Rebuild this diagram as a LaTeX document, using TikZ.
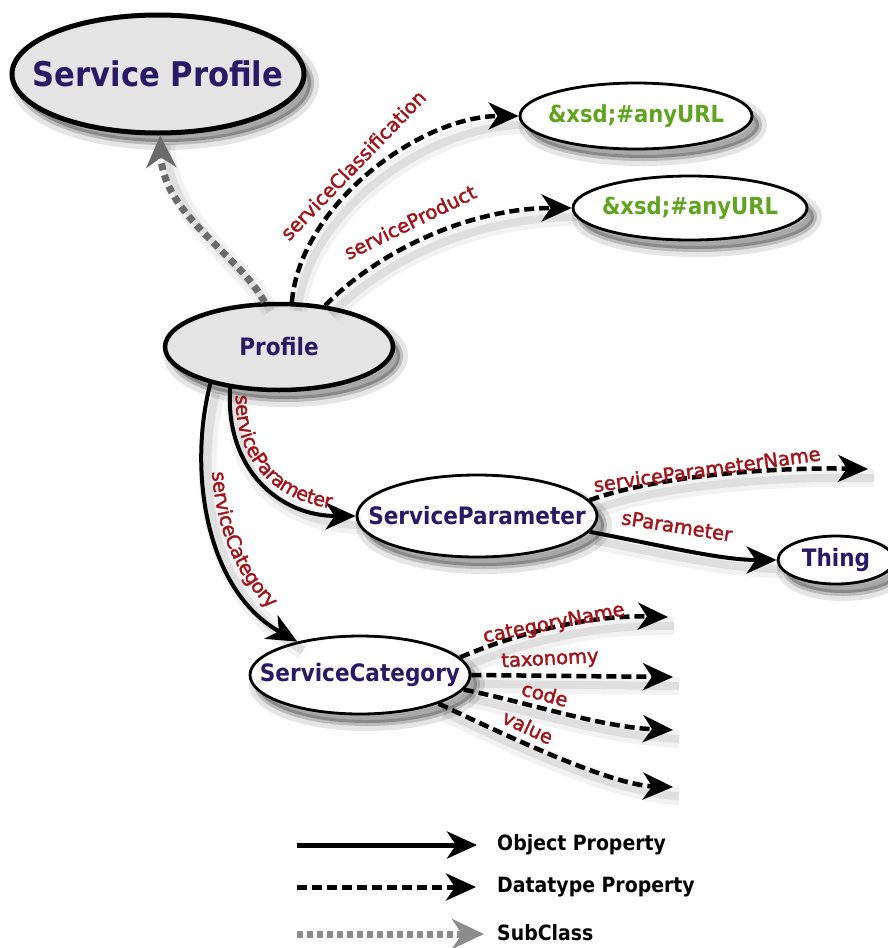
\documentclass[tikz,border=0pt]{standalone}
\usepackage{fontspec}
\setmainfont{DejaVu Sans}
\newfontfamily\nodefont{DejaVu Sans Condensed Bold}
\newfontfamily\lblfont[FakeBold=1.8]{DejaVu Sans}
\usetikzlibrary{shapes.geometric,arrows.meta,shadows,decorations.text}

\definecolor{nodeink}{HTML}{2A1A66}
\definecolor{urlgreen}{HTML}{5FA320}
\definecolor{lblred}{HTML}{A0141A}
\definecolor{classfill}{HTML}{E4E4E4}
\definecolor{subgray}{HTML}{6B6B6B}
\definecolor{legsubgray}{HTML}{8C8C8C}

\newcommand\lblstyle{\lblfont\fontsize{19.5pt}{22pt}\selectfont\color{lblred}}

\tikzset{
  % soft shadow below right of the ellipses
  nodeshadow/.style={
    drop shadow={shadow xshift=7pt, shadow yshift=-9pt, fill=black, draw=black, opacity=0.10, line width=16pt},
    drop shadow={shadow xshift=7pt, shadow yshift=-9pt, fill=black, draw=black, opacity=0.18, line width=6pt}},
  % soft shadow below right of the connectors
  edgeshadow/.style={
    preaction={draw=black, draw opacity=0.05, line width=18pt, solid, -, transform canvas={shift={(6pt,-9pt)}}},
    preaction={draw=black, draw opacity=0.08, line width=8pt, solid, -, transform canvas={shift={(6pt,-9pt)}}}},
  % node text keeps no width, so the ellipse size is set by the minimum sizes
  zerow/.style={execute at begin node={\hbox to 0pt\bgroup\hss}, execute at end node={\hss\egroup}},
  ellbase/.style={ellipse, inner sep=0pt, zerow, nodeshadow},
  topclass/.style={ellbase, draw, line width=5pt, fill=classfill, text=nodeink,
    font=\nodefont\fontsize{34pt}{38pt}\selectfont},
  cls/.style={ellbase, draw, line width=4.5pt, fill=classfill, text=nodeink,
    font=\nodefont\fontsize{24pt}{28pt}\selectfont},
  plainclass/.style={ellbase, draw, line width=2.8pt, fill=white, text=nodeink,
    font=\nodefont\fontsize{24pt}{28pt}\selectfont},
  dtype/.style={ellbase, draw, line width=2.8pt, fill=white, text=urlgreen,
    font=\nodefont\fontsize{23.5pt}{28pt}\selectfont},
  bigtip/.style={-{Stealth[length=30pt,width=27pt,inset=9pt]}},
  oprop/.style={draw=black, line width=4pt, bigtip, edgeshadow},
  dprop/.style={draw=black, line width=4.5pt, dash pattern=on 10pt off 5pt, bigtip, edgeshadow},
  subcls/.style={draw=subgray, line width=7pt, dash pattern=on 7pt off 5pt,
    -{Stealth[length=32pt,width=30pt,inset=10pt]}, edgeshadow},
  lbl/.style={inner sep=0pt, text=lblred, font=\lblfont\fontsize{19.5pt}{22pt}\selectfont},
  legtext/.style={inner sep=0pt, anchor=west, text=black, font=\nodefont\fontsize{21pt}{24pt}\selectfont},
}

\begin{document}
\begin{tikzpicture}[x=1pt,y=-1pt]
\fill[white] (0,0) rectangle (888,948);
\useasboundingbox (0,0) rectangle (888,948);

% classes and datatypes
\node[topclass, minimum width=292pt, minimum height=118pt] (sprof) at (158,74) {Service Profile};
\node[cls, minimum width=228pt, minimum height=86pt] (prof) at (279,347) {Profile};
\node[dtype, minimum width=232pt, minimum height=66pt] (url1) at (636,116) {\&xsd;\#anyURL};
\node[dtype, minimum width=234pt, minimum height=64pt] (url2) at (690,208) {\&xsd;\#anyURL};
\node[plainclass, minimum width=240pt, minimum height=82pt] (sparam) at (477,516) {ServiceParameter};
\node[plainclass, minimum width=116pt, minimum height=48pt] (thing) at (836,560) {Thing};
\node[plainclass, minimum width=220pt, minimum height=78pt] (scat) at (360,675) {ServiceCategory};

% open ends of datatype properties
\coordinate (pname) at (868,469);
\coordinate (cname) at (668,617);
\coordinate (ctax) at (673,677);
\coordinate (ccode) at (673,730);
\coordinate (cval) at (673,787);

% subclass link
\draw[subcls] (prof.108) .. controls (240,255) and (163,215) .. (sprof.-88);

% properties of Profile
\draw[dprop] (prof.74) .. controls (300,205) and (420,116) .. (url1.west);
\node[lbl, rotate=46] (lcls) at (353,165) {serviceClassification};
\draw[dprop] (prof.42) .. controls (380,250) and (470,208) .. (url2.west);
\node[lbl, rotate=26] (lprod) at (410,222) {serviceProduct};

\draw[oprop] (prof.220) .. controls (225,470) and (280,516) .. (sparam.west);
\path[decorate, decoration={text along path, raise=6pt, text align={left indent=7pt},
  text={|\lblstyle|serviceParameter}}]
  (prof.220) .. controls (225,470) and (280,516) .. (sparam.west);

\draw[oprop] (prof.208) .. controls (188,470) and (205,590) .. (scat.152);
\path[decorate, decoration={text along path, raise=10pt, text align={left indent=90pt},
  text={|\lblstyle|serviceCategory}}]
  (prof.208) .. controls (188,470) and (205,590) .. (scat.152);

% properties of ServiceParameter
\draw[dprop] (sparam.8) .. controls (650,478) and (760,467) .. (pname);
\node[lbl, rotate=8] (lpname) at (707,469) {serviceParameterName};
\draw[oprop] (sparam.-8) .. controls (660,545) and (720,560) .. (thing.west);
\node[lbl, rotate=-9] (lspar) at (677,526) {sParameter};

% properties of ServiceCategory
\draw[dprop] (scat.10) .. controls (520,632) and (590,615) .. (cname);
\node[lbl, rotate=11] (lcname) at (554,624) {categoryName};
\draw[dprop] (scat.east) -- (ctax);
\node[lbl, rotate=3] (ltax) at (550,660) {taxonomy};
\draw[dprop] (scat.-8) .. controls (530,703) and (600,727) .. (ccode);
\node[lbl, rotate=-15] (lcode) at (545,694) {code};
\draw[dprop] (scat.-20) .. controls (505,735) and (610,785) .. (cval);
\node[lbl, rotate=-25] (lval) at (528,727) {value};

% legend
\coordinate (lo1) at (297,845);
\coordinate (lo2) at (477,845);
\draw[draw=black, line width=5pt, bigtip] (lo1) -- (lo2);
\node[legtext] (lot) at (497,845) {Object Property};
\coordinate (ld1) at (297,887);
\coordinate (ld2) at (476,887);
\draw[draw=black, line width=5pt, dash pattern=on 10pt off 5pt, bigtip] (ld1) -- (ld2);
\node[legtext] (ldt) at (497,887) {Datatype Property};
\coordinate (ls1) at (297,934);
\coordinate (ls2) at (484,934);
\draw[draw=legsubgray, line width=7pt, dash pattern=on 6pt off 4pt,
  -{Stealth[length=32pt,width=30pt,inset=10pt]}] (ls1) -- (ls2);
\node[legtext] (lst) at (497,933) {SubClass};
\end{tikzpicture}
\end{document}
